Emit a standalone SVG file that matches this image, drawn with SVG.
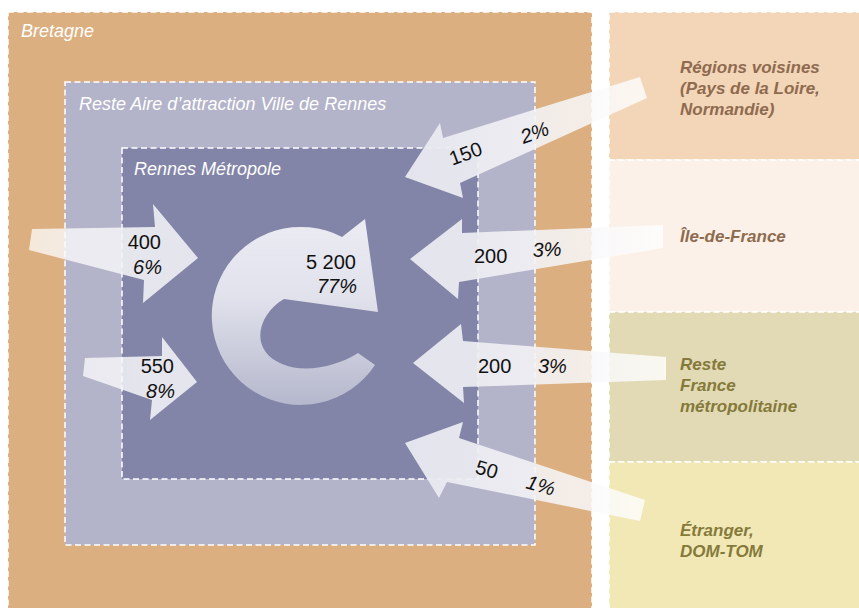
<svg xmlns="http://www.w3.org/2000/svg" width="859" height="608" viewBox="0 0 859 608">
<style>
.zone{stroke:#fff;stroke-width:1.5;stroke-dasharray:6 3.5}
.zt{font-family:"Liberation Sans",Arial,sans-serif;font-style:italic;font-size:18px;fill:#fff}
.pt{font-family:"Liberation Sans",Arial,sans-serif;font-style:italic;font-weight:bold;font-size:17px}
.brown{fill:#8e6b4f}
.olive{fill:#857a3a}
.num{font-family:"Liberation Sans",Arial,sans-serif;font-size:20px;fill:#111}
.pct{font-style:italic}
.arrL{fill:url(#gL)}
.arrR{fill:url(#gR)}
</style>
<defs>
<linearGradient id="gL" x1="0" y1="0" x2="1" y2="0">
<stop offset="0" stop-color="#fff" stop-opacity="0.72"/>
<stop offset="0.6" stop-color="#f1f1f5" stop-opacity="0.9"/>
<stop offset="1" stop-color="#e6e7ef" stop-opacity="0.97"/>
</linearGradient>
<linearGradient id="gR" x1="1" y1="0" x2="0" y2="0">
<stop offset="0" stop-color="#fff" stop-opacity="0.8"/>
<stop offset="0.6" stop-color="#f1f1f5" stop-opacity="0.9"/>
<stop offset="1" stop-color="#e6e7ef" stop-opacity="0.97"/>
</linearGradient>
<linearGradient id="gC" gradientUnits="userSpaceOnUse" x1="0" y1="219" x2="0" y2="413">
<stop offset="0" stop-color="#ebebf3"/>
<stop offset="0.4" stop-color="#e1e2ec"/>
<stop offset="1" stop-color="#b2b4ca"/>
</linearGradient>
</defs>
<rect width="859" height="608" fill="#fff"/>
<g id="bretagne">
<rect class="zone" x="8" y="12" width="584" height="620" fill="#dcaf80"/>
<text class="zt" x="21" y="37">Bretagne</text>
</g>
<g id="reste-aire">
<rect class="zone" x="65" y="82" width="470" height="463" fill="#b3b4c9"/>
<text class="zt" x="79" y="110">Reste Aire d’attraction Ville de Rennes</text>
</g>
<g id="rennes-metropole">
<rect class="zone" x="122" y="148" width="356" height="331" fill="#8385a8"/>
<text class="zt" x="134" y="175">Rennes Métropole</text>
</g>
<g id="regions-voisines">
<rect class="zone" x="609" y="12" width="260" height="148" fill="#f3d5b8"/>
<text class="pt brown" x="680" y="73">Régions voisines</text>
<text class="pt brown" x="680" y="94">(Pays de la Loire,</text>
<text class="pt brown" x="680" y="115">Normandie)</text>
</g>
<g id="ile-de-france">
<rect class="zone" x="609" y="160" width="260" height="152" fill="#fcf1e8"/>
<text class="pt brown" x="680" y="242">Île-de-France</text>
</g>
<g id="reste-france">
<rect class="zone" x="609" y="312" width="260" height="150" fill="#e2d9b5"/>
<text class="pt olive" x="680" y="370">Reste</text>
<text class="pt olive" x="680" y="391">France</text>
<text class="pt olive" x="680" y="412">métropolitaine</text>
</g>
<g id="etranger">
<rect class="zone" x="609" y="462" width="260" height="160" fill="#f1e8b6"/>
<text class="pt olive" x="680" y="536">Étranger,</text>
<text class="pt olive" x="680" y="557">DOM-TOM</text>
</g>
<g id="connectors">
<polygon class="arrL" points="32,229 155,227 153,204 198,258 143,303 144,280 29,250"/>
<polygon class="arrL" points="85,358 162,356 162,337 197,382 150,420 152,400 83,376"/>
<polygon class="arrR" points="640,77 443,138 440,123 405,177 463,198 460,183 647,98"/>
<polygon class="arrR" points="663,225 462,233 462,219 410,259 458,299 459,282 663,248"/>
<polygon class="arrR" points="666,357 463,341 461,324 413,363 464,403 463,387 666,380"/>
<polygon class="arrR" points="645,500 459,438 463,422 405,443 439,498 447,482 640,521"/>
<path fill="url(#gC)" d="M375 365 A89 89 0 1 1 342 237 L365 219 L378 312 L284 299 C258 314 248 350 282 364 C305 374 338 366 358 353 Z"/>
<text class="num" x="161" y="249" text-anchor="end">400</text>
<text class="num pct" x="162" y="274" text-anchor="end">6%</text>
<text class="num" x="174" y="373" text-anchor="end">550</text>
<text class="num pct" x="175" y="398" text-anchor="end">8%</text>
<text class="num" x="356" y="269" text-anchor="end">5 200</text>
<text class="num pct" x="357" y="293" text-anchor="end">77%</text>
<text class="num" transform="translate(468,160) rotate(-20)" text-anchor="middle">150</text>
<text class="num pct" transform="translate(537,139) rotate(-20)" text-anchor="middle">2%</text>
<text class="num" x="474" y="263">200</text>
<text class="num pct" transform="translate(533,257) rotate(-3)">3%</text>
<text class="num" x="478" y="373">200</text>
<text class="num pct" x="538" y="373">3%</text>
<text class="num" transform="translate(485,476) rotate(16)" text-anchor="middle">50</text>
<text class="num pct" transform="translate(539,492) rotate(16)" text-anchor="middle">1%</text>
</g>
</svg>
